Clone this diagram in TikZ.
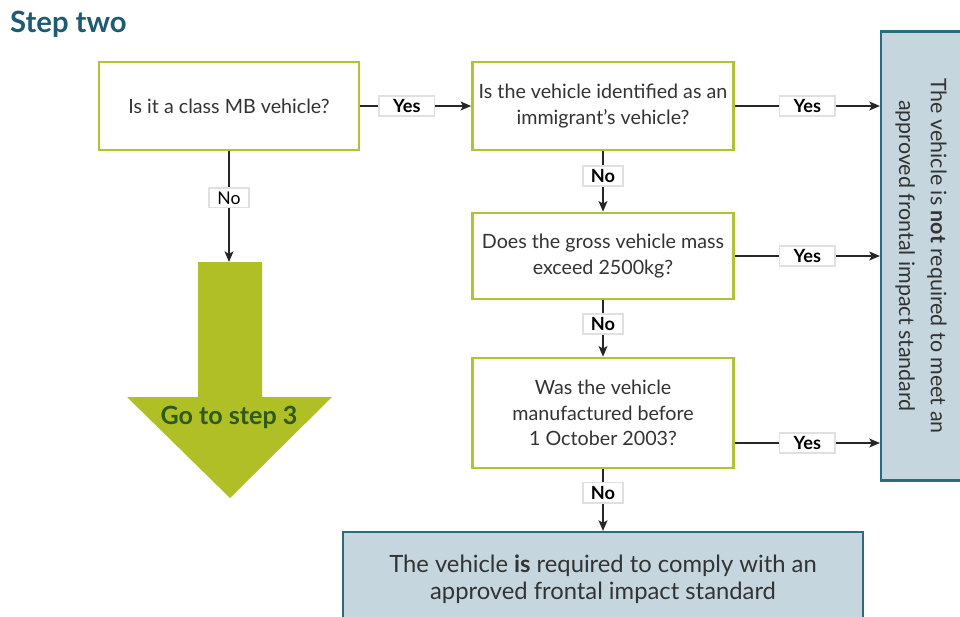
\documentclass[tikz,border=0pt]{standalone}
\usepackage{fontspec}
\setmainfont{Lato}
\usetikzlibrary{
  positioning,
  arrows.meta
}
\definecolor{stepteal}{HTML}{1F5B70}
\definecolor{boxgreen}{HTML}{B3C232}
\definecolor{arrowgreen}{HTML}{AFBF25}
\definecolor{gotogreen}{HTML}{2F5A16}
\definecolor{resultfill}{HTML}{C6D6DE}
\definecolor{resultdraw}{HTML}{2C6A80}
\definecolor{textgrey}{HTML}{333333}

\begin{document}
\begin{tikzpicture}[
    x=0.03cm, y=-0.03cm, >={Stealth[length=9pt,width=7.5pt,inset=2pt]},
    font=\fontsize{16.8}{21.8}\selectfont, text=textgrey,
    question/.style={
      rectangle,
      draw=boxgreen,
      line width=2.2pt,
      fill=white,
      align=center,
      inner sep=2pt
    },
    result/.style={
      rectangle,
      draw=resultdraw,
      line width=1.8pt,
      fill=resultfill,
      align=center
    },
    answer/.style={
      rectangle,
      draw=black!12,
      fill=white,
      inner xsep=7pt, inner ysep=3pt,
      font=\fontsize{15.5}{17}\selectfont\bfseries,
      text=black
    },
    yesanswer/.style={answer, inner xsep=12pt},
    flow/.style={->, line width=1.4pt, black!85}
  ]

  \clip (0,0) rectangle (960,616);
  \fill[white] (0,0) rectangle (960,616);

  \node[anchor=west, text=stepteal, font=\fontsize{25}{28}\selectfont\bfseries] (title) at (6,24) {Step two};

  % questions
  \node[question, minimum width=7.8cm, minimum height=2.64cm] (mbq) at (229,106) {Is it a class MB vehicle?};
  \node[question, minimum width=7.83cm, minimum height=2.64cm] (immq) at (603,106) {Is the vehicle identified as an\\immigrant’s vehicle?};
  \node[question, minimum width=7.83cm, minimum height=2.58cm] (gvmq) at (603,256) {Does the gross vehicle mass\\exceed 2500kg?};
  \node[question, minimum width=7.83cm, minimum height=3.3cm] (dateq) at (603,413) {Was the vehicle\\manufactured before\\1 October 2003?};

  % outcomes
  \node[result, rotate=-90, minimum width=13.47cm, minimum height=2.4cm, font=\fontsize{18.3}{27}\selectfont] (notreq) at (921,256) {The vehicle is \textbf{not} required to meet an\\approved frontal impact standard};
  \node[result, minimum width=15.6cm, minimum height=2.82cm, font=\fontsize{20.3}{23}\selectfont] (isreq) at (603,579) {The vehicle \textbf{is} required to comply with an\\approved frontal impact standard};

  % go to step 3
  \fill[arrowgreen] (198,262) -- (262,262) -- (262,397) -- (332,397) -- (230,498) -- (127,397) -- (198,397) -- cycle;
  \coordinate (gotop) at (229,262);
  \node[text=gotogreen, font=\fontsize{21.4}{24}\selectfont\bfseries] (goto) at (229,417) {Go to step 3};

  % connectors
  \draw[flow] (mbq) -- node[yesanswer, pos=0.42] {Yes} (immq);
  \draw[flow] (mbq) -- node[answer, pos=0.42, font=\fontsize{15}{17}\selectfont] {No} (gotop);
  \draw[flow] (immq) -- node[answer, pos=0.41] {No} (gvmq);
  \draw[flow] (gvmq) -- node[answer, pos=0.42] {No} (dateq);
  \draw[flow] (dateq) -- node[answer, pos=0.38] {No} (isreq);
  \draw[flow] (immq.east) -- node[yesanswer] {Yes} (immq.east -| notreq.south);
  \draw[flow] (gvmq.east) -- node[yesanswer] {Yes} (gvmq.east -| notreq.south);
  \draw[flow] ([yshift=-0.9cm]dateq.east) -- node[yesanswer] {Yes} ([yshift=-0.9cm]dateq.east -| notreq.south);
\end{tikzpicture}
\end{document}
